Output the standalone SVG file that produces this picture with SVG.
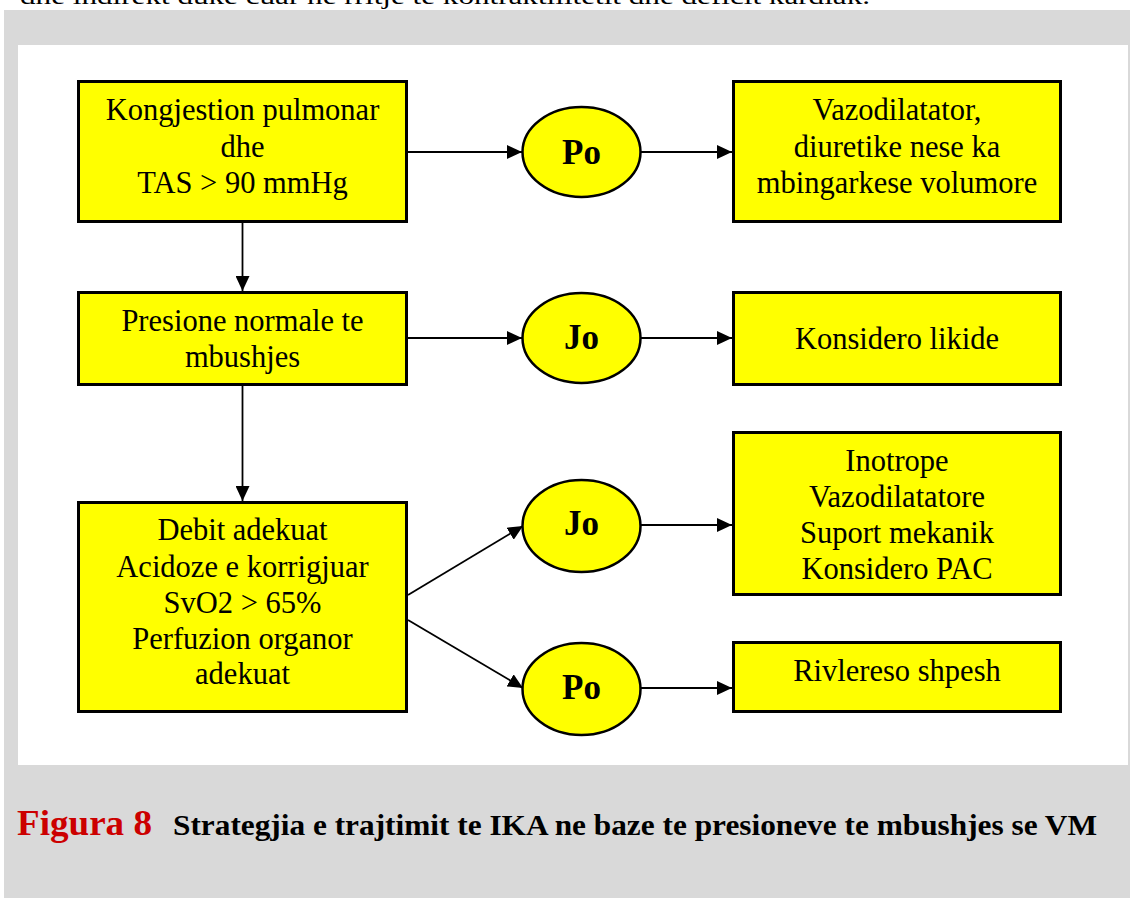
<svg xmlns="http://www.w3.org/2000/svg" width="1134" height="898" viewBox="0 0 1134 898">
<style>
.box{fill:#FFFF00;stroke:#000;stroke-width:3}
.ell{fill:#FFFF00;stroke:#000;stroke-width:2.5}
.t{font-family:"Liberation Serif","Times New Roman",serif;font-size:30.5px;fill:#000;text-anchor:middle}
.lb{font-family:"Liberation Serif","Times New Roman",serif;font-size:35px;font-weight:bold;fill:#000;text-anchor:middle}
.c{stroke:#000;stroke-width:1.8;fill:none;marker-end:url(#ah)}
</style>
<defs>
<marker id="ah" markerUnits="userSpaceOnUse" markerWidth="15" markerHeight="14" refX="15" refY="7" orient="auto">
<path d="M0,0 L15,7 L0,14 Z" fill="#000"/>
</marker>
</defs>
<rect x="0" y="0" width="1134" height="898" fill="#FFFFFF"/>
<text x="20" y="4" font-family="'Liberation Serif','Times New Roman',serif" font-size="24" textLength="850" lengthAdjust="spacingAndGlyphs">dhe indirekt duke cuar ne rritje te kontraktilitetit dhe deficit kardiak.</text>
<rect x="4" y="10" width="1126" height="888" fill="#D9D9D9"/>
<rect x="18" y="45" width="1110" height="720" fill="#FFFFFF"/>

<g id="connectors">
<line class="c" x1="408" y1="152" x2="522" y2="152"/>
<line class="c" x1="641" y1="152" x2="732" y2="152"/>
<line class="c" x1="408" y1="338" x2="522" y2="338"/>
<line class="c" x1="641" y1="338" x2="732" y2="338"/>
<line class="c" x1="242.5" y1="223" x2="242.5" y2="291"/>
<line class="c" x1="242.5" y1="386" x2="242.5" y2="501"/>
<line class="c" x1="408" y1="595" x2="523" y2="526"/>
<line class="c" x1="641" y1="525" x2="732" y2="525"/>
<line class="c" x1="408" y1="620" x2="523" y2="688"/>
<line class="c" x1="641" y1="688" x2="732" y2="688"/>
</g>

<g id="n1">
<rect class="box" x="78.5" y="81.5" width="328" height="140"/>
<text class="t" x="242.5" y="120">Kongjestion pulmonar</text>
<text class="t" x="242.5" y="156.5">dhe</text>
<text class="t" x="242.5" y="193">TAS &gt; 90 mmHg</text>
</g>
<g id="n2">
<rect class="box" x="78.5" y="292.5" width="328" height="92"/>
<text class="t" x="242.5" y="331">Presione normale te</text>
<text class="t" x="242.5" y="367">mbushjes</text>
</g>
<g id="n3">
<rect class="box" x="78.5" y="502.5" width="328" height="209"/>
<text class="t" x="242.5" y="540">Debit adekuat</text>
<text class="t" x="242.5" y="576.5">Acidoze e korrigjuar</text>
<text class="t" x="242.5" y="612.5">SvO2 &gt; 65%</text>
<text class="t" x="242.5" y="648.5">Perfuzion organor</text>
<text class="t" x="242.5" y="684">adekuat</text>
</g>

<g id="e1">
<ellipse class="ell" cx="581.5" cy="152" rx="59" ry="45"/>
<text class="lb" x="581.5" y="164">Po</text>
</g>
<g id="e2">
<ellipse class="ell" cx="581.5" cy="338" rx="59" ry="45"/>
<text class="lb" x="581.5" y="349">Jo</text>
</g>
<g id="e3">
<ellipse class="ell" cx="581.5" cy="526" rx="59" ry="46"/>
<text class="lb" x="581.5" y="535">Jo</text>
</g>
<g id="e4">
<ellipse class="ell" cx="581.5" cy="689" rx="59" ry="46"/>
<text class="lb" x="581.5" y="699">Po</text>
</g>

<g id="r1">
<rect class="box" x="733.5" y="81.5" width="327" height="140"/>
<text class="t" x="897" y="120">Vazodilatator,</text>
<text class="t" x="897" y="156.5">diuretike nese ka</text>
<text class="t" x="897" y="193">mbingarkese volumore</text>
</g>
<g id="r2">
<rect class="box" x="733.5" y="292.5" width="327" height="92"/>
<text class="t" x="897" y="349">Konsidero likide</text>
</g>
<g id="r3">
<rect class="box" x="733.5" y="432.5" width="327" height="162"/>
<text class="t" x="897" y="471">Inotrope</text>
<text class="t" x="897" y="507">Vazodilatatore</text>
<text class="t" x="897" y="543">Suport mekanik</text>
<text class="t" x="897" y="578.5">Konsidero PAC</text>
</g>
<g id="r4">
<rect class="box" x="733.5" y="642.5" width="327" height="69"/>
<text class="t" x="897" y="681">Rivlereso shpesh</text>
</g>

<g id="caption">
<text x="17" y="835" font-family="'Liberation Serif','Times New Roman',serif" font-size="36" font-weight="bold" fill="#CC0000" textLength="135" lengthAdjust="spacingAndGlyphs">Figura 8</text>
<text x="173" y="835" font-family="'Liberation Serif','Times New Roman',serif" font-size="30" font-weight="bold" fill="#000" textLength="924" lengthAdjust="spacingAndGlyphs">Strategjia e trajtimit te IKA ne baze te presioneve te mbushjes se VM</text>
</g>
</svg>
